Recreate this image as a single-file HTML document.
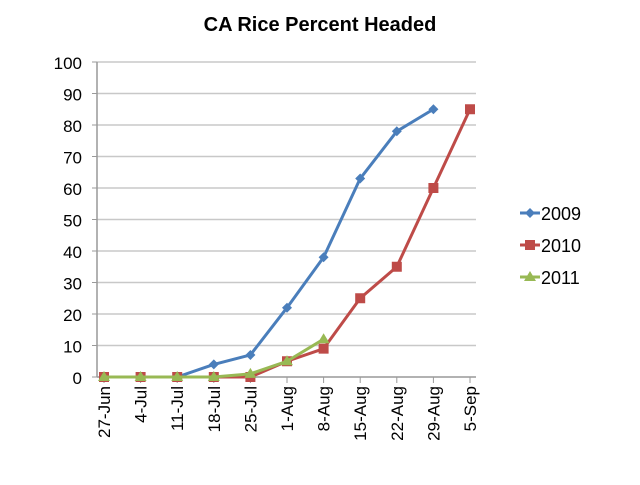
<!DOCTYPE html>
<html><head><meta charset="utf-8"><style>body{margin:0;background:#fff}svg{font-family:"Liberation Sans",sans-serif}</style></head>
<body>
<svg width="640" height="480">
<text x="320" y="31" text-anchor="middle" font-size="20" font-weight="bold" fill="#000">CA Rice Percent Headed</text>
<g id="grid"></g><g id="axes"></g><g id="series"></g>
<g id="legend"></g>
</svg>
<script>
const categories=["27-Jun","4-Jul","11-Jul","18-Jul","25-Jul","1-Aug","8-Aug","15-Aug","22-Aug","29-Aug","5-Sep"];
const s2009=[0,0,0,4,7,22,38,63,78,85,null];
const s2010=[0,0,0,0,0,5,9,25,35,60,85];
const s2011=[0,0,0,0,1,5,12,null,null,null,null];
const yTicks=[0,10,20,30,40,50,60,70,80,90,100];
const seriesNames=["2009","2010","2011"];
const NS="http://www.w3.org/2000/svg";
const L=97,R=476,Y0=377,Y100=62;
const xs=i=>104+i*36.6, ys=v=>Y0+(Y100-Y0)*v/100;
function mk(t,a,p){const e=document.createElementNS(NS,t);for(const k in a)e.setAttribute(k,a[k]);p.appendChild(e);return e;}
const grid=document.getElementById('grid'),axes=document.getElementById('axes'),ser=document.getElementById('series'),leg=document.getElementById('legend');
yTicks.forEach(v=>{
 if(v>0){const g=mk('line',{x1:L,x2:R,y1:ys(v),y2:ys(v),stroke:'#c8c8c8','stroke-width':1.5},grid);
 
 }
 const t=mk('text',{x:82,y:ys(v)+7,'text-anchor':'end','font-size':17,fill:'#000'},axes);t.textContent=v;
 
 
 mk('line',{x1:L-5,x2:L,y1:ys(v),y2:ys(v),stroke:'#999'},axes);
});
mk('line',{x1:L,x2:L,y1:Y100,y2:Y0,stroke:'#999','stroke-width':1.5},axes);
mk('line',{x1:L,x2:R,y1:Y0,y2:Y0,stroke:'#999','stroke-width':1.5},axes);
categories.forEach((c,i)=>{
 mk('line',{x1:xs(i),x2:xs(i),y1:Y0,y2:Y0+6,stroke:'#999'},axes);
 const t=mk('text',{transform:`translate(${xs(i)+6},${Y0+9}) rotate(-90)`,'text-anchor':'end','font-size':17,fill:'#000'},axes);t.textContent=c;
 
 
});
const colors=["#4a7ebb","#be4b48","#98b954"];
function marker(type,x,y,c,p){
 let e;
 if(type==0)e=mk('polygon',{points:`${x},${y-5} ${x+5},${y} ${x},${y+5} ${x-5},${y}`,fill:c},p);
 else if(type==1)e=mk('rect',{x:x-5,y:y-5,width:10,height:10,fill:c},p);
 else e=mk('polygon',{points:`${x},${y-6} ${x+6},${y+4} ${x-6},${y+4}`,fill:c},p);
 return e;
}
[s2009,s2010,s2011].forEach((s,k)=>{
 const pts=[];s.forEach((v,i)=>{if(v!==null)pts.push([xs(i),ys(v)]);});
 const pl=mk('polyline',{points:pts.map(p=>p.join(',')).join(' '),fill:'none',stroke:colors[k],'stroke-width':3,'stroke-linejoin':'round'},ser);
 
 
 pts.forEach(p=>{const m=marker(k,p[0],p[1],colors[k],ser);
  
  });
 const ly=213+k*32;
 mk('line',{x1:520,x2:540,y1:ly,y2:ly,stroke:colors[k],'stroke-width':3},leg);
 marker(k,530,ly,colors[k],leg);
 const t=mk('text',{x:541,y:ly+7,'font-size':18,fill:'#000'},leg);t.textContent=seriesNames[k];
 
 
});
</script>
</body></html>
